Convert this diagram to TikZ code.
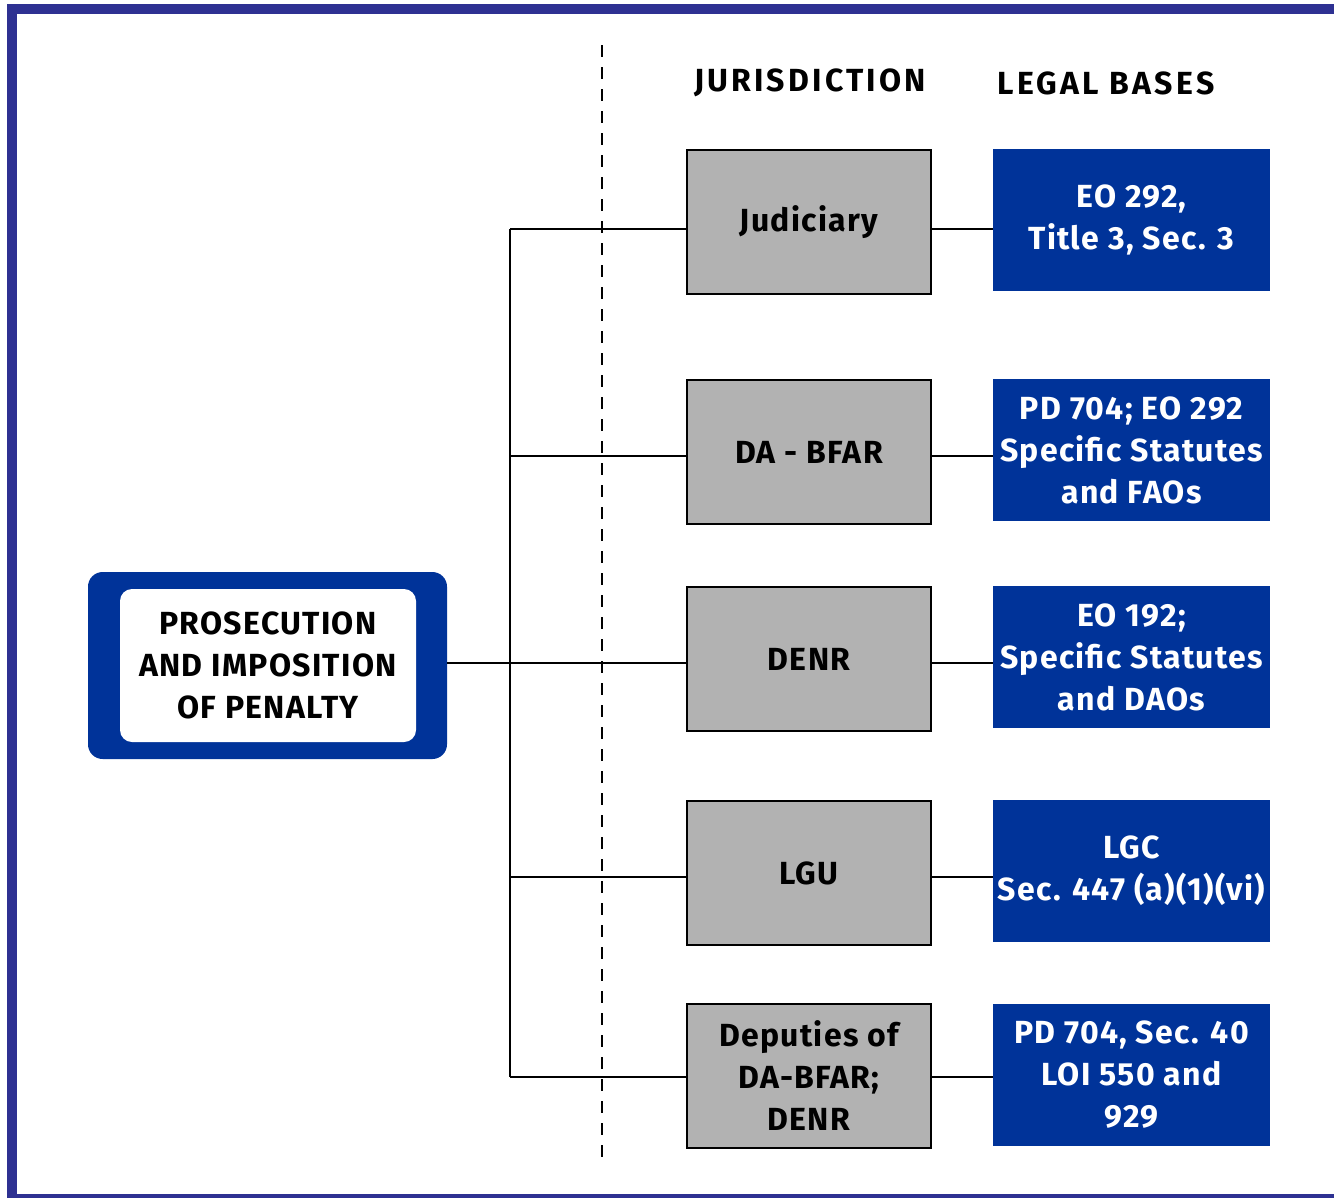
\documentclass[tikz,border=0pt]{standalone}
\usepackage{fontspec}
\setmainfont{Fira Sans}
\newfontfamily\boxfont[LetterSpace=4]{Fira Sans}
\newfontfamily\headfont[LetterSpace=10]{Fira Sans}
\definecolor{framecol}{HTML}{2E3192}
\definecolor{boxblue}{HTML}{003399}
\definecolor{boxgray}{HTML}{B2B2B2}
\begin{document}
\begin{tikzpicture}[x=0.75pt,y=-0.75pt,
  txt/.style={font=\boxfont\fontsize{24}{31.5}\selectfont\bfseries, align=center, inner sep=0pt},
  graybox/.style={txt, draw=black, line width=1.5pt, fill=boxgray, minimum width=183pt, minimum height=108pt},
  bluebox/.style={txt, fill=boxblue, text=white, minimum width=207.75pt, minimum height=106.5pt},
  conn/.style={draw=black, line width=1.5pt},
  header/.style={font=\headfont\fontsize{24}{26}\selectfont\bfseries, inner sep=0pt}]
\useasboundingbox (0,0) rectangle (1334,1197);
\clip (0,0) rectangle (1334,1197);
% frame
\draw[framecol, line width=7.5pt] (12,8.5) rectangle (1360,1198.5);
% dashed separator
\coordinate (dtop) at (602,45);
\coordinate (dbot) at (602,1162);
\draw[black, line width=2pt, dash pattern=on 9pt off 7.5pt] (dtop) -- (dbot);
% headers
\node[header] (hj) at (810,83) {JURISDICTION};
\node[header] (hl) at (1106,83) {LEGAL BASES};
% left box
\node[fill=boxblue, rounded corners=11pt, minimum width=269.25pt, minimum height=140.25pt, inner sep=0pt] (outer) at (267.5,665.5) {};
\node[txt, fill=white, rounded corners=9pt, minimum width=222pt, minimum height=114.75pt] (main) at (268,665.5) {PROSECUTION\\AND IMPOSITION\\OF PENALTY};
% gray boxes
\node[graybox] (g1) at (809,222) {Judiciary};
\node[graybox] (g2) at (809,452) {DA - BFAR};
\node[graybox] (g3) at (809,659) {DENR};
\node[graybox] (g4) at (809,873) {LGU};
\node[graybox] (g5) at (809,1076) {Deputies of\\DA-BFAR;\\DENR};
% blue boxes
\node[bluebox] (b1) at (1131.5,220) {EO 292,\\Title 3, Sec. 3};
\node[bluebox] (b2) at (1131.5,450) {PD 704; EO 292\\Specific Statutes\\and FAOs};
\node[bluebox] (b3) at (1131.5,657) {EO 192;\\Specific Statutes\\and DAOs};
\node[bluebox] (b4) at (1131.5,871) {LGC\\Sec. 447 (a)(1)(vi)};
\node[bluebox] (b5) at (1131.5,1075) {PD 704, Sec. 40\\LOI 550 and\\929};
% trunk
\coordinate (t1) at (510,229);
\coordinate (t2) at (510,456);
\coordinate (t3) at (510,663);
\coordinate (t4) at (510,877);
\coordinate (t5) at (510,1077);
\draw[conn] (t1) -- (t5);
\draw[conn] (outer.east |- t3) -- (t3);
\foreach \i in {1,...,5}{
  \draw[conn] (t\i) -- (t\i -| g\i.west);
  \draw[conn] (t\i -| g\i.east) -- (t\i -| b\i.west);
}
\end{tikzpicture}
\end{document}
